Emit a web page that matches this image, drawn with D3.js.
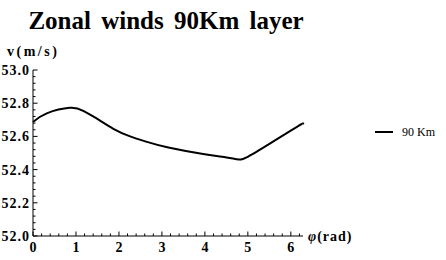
<!DOCTYPE html>
<html>
<head>
<meta charset="UTF-8">
<script src="https://d3js.org/d3.v7.min.js"></script>
</head>
<body style="margin:0">
<svg id="chart" width="446" height="260" font-family="Liberation Serif, Times New Roman, serif"></svg>
<script>
// zonal wind at 90 km vs longitude phi (rad)
const phi = [0, 0.32, 0.86, 1.17, 1.48, 1.87, 2.26, 2.64, 3.15, 3.96, 4.4, 4.74, 4.97, 5.51, 6.17, 6.283];
const wind = [52.687, 52.739, 52.772, 52.754, 52.708, 52.646, 52.600, 52.568, 52.533, 52.494, 52.478, 52.463, 52.473, 52.556, 52.662, 52.674];
const xTicks = [0, 1, 2, 3, 4, 5, 6];
const yTicks = [52.0, 52.2, 52.4, 52.6, 52.8, 53.0];
const seriesName = "90 Km";
const fontFam = "Liberation Serif, Times New Roman, serif";

const svg = d3.select("#chart");
const x = d3.scaleLinear().domain([0, 2 * Math.PI]).range([33, 303]);
const y = d3.scaleLinear().domain([52.0, 53.0]).range([236, 70]);

// minor ticks
const xMinor = d3.range(0, 6.3, 0.2).filter(v => Math.abs(v - Math.round(v)) > 1e-6);
const yMinor = d3.range(52.0, 53.001, 0.04).filter(v => Math.abs(v * 5 - Math.round(v * 5)) > 1e-6);

const gx = svg.append("g").attr("transform", "translate(0,236)");
gx.append("line").attr("x1", x(0)).attr("x2", x(2 * Math.PI)).attr("stroke", "#000");
gx.selectAll(".mn").data(xMinor).join("line")
  .attr("x1", d => x(d)).attr("x2", d => x(d)).attr("y1", 0).attr("y2", -2.5).attr("stroke", "#000");
const xt = gx.selectAll(".tick").data(xTicks).join("g").attr("class", "tick")
  .attr("transform", d => `translate(${x(d)},0)`);
xt.append("line").attr("y2", -4.5).attr("stroke", "#000");
xt.append("text").attr("y", 16).attr("text-anchor", "middle")
  .attr("font-family", fontFam).attr("font-weight", "bold").attr("font-size", 14)
  .text(d => d);

const gy = svg.append("g").attr("transform", "translate(33,0)");
gy.append("line").attr("y1", y(52)).attr("y2", y(53)).attr("stroke", "#000");
gy.selectAll(".mn").data(yMinor).join("line")
  .attr("y1", d => y(d)).attr("y2", d => y(d)).attr("x1", 0).attr("x2", 2.5).attr("stroke", "#000");
const yt = gy.selectAll(".tick").data(yTicks).join("g").attr("class", "tick")
  .attr("transform", d => `translate(0,${y(d)})`);
yt.append("line").attr("x2", 4.5).attr("stroke", "#000");
yt.append("text").attr("x", -3).attr("dy", "0.35em").attr("text-anchor", "end")
  .attr("font-family", fontFam).attr("font-weight", "bold").attr("font-size", 14)
  .attr("letter-spacing", 1)
  .text(d => d.toFixed(1));

// curve
const line = d3.line().x((d, i) => x(phi[i])).y(d => y(d)).curve(d3.curveNatural);
svg.append("path").datum(wind).attr("d", line)
  .attr("fill", "none").attr("stroke", "#000").attr("stroke-width", 2);

// titles
svg.append("text").attr("x", 166).attr("y", 29).attr("text-anchor", "middle")
  .attr("font-family", fontFam).attr("font-size", 25).attr("font-weight", "bold")
  .attr("word-spacing", 4)
  .text("Zonal winds 90Km layer");
svg.append("text").attr("x", 7).attr("y", 56)
  .attr("font-family", fontFam).attr("font-size", 14).attr("font-weight", "bold")
  .attr("letter-spacing", 2.5)
  .text("v(m/s)");
const phiLabel = svg.append("text").attr("x", 308).attr("y", 241)
  .attr("font-family", fontFam).attr("font-size", 14).attr("font-weight", "bold")
  .attr("letter-spacing", 1);
phiLabel.append("tspan").attr("font-style", "italic").text("φ");
phiLabel.append("tspan").text("(rad)");

// legend
svg.append("line").attr("x1", 375).attr("x2", 393).attr("y1", 132).attr("y2", 132)
  .attr("stroke", "#000").attr("stroke-width", 2);
svg.append("text").attr("x", 402).attr("y", 136)
  .attr("font-family", fontFam).attr("font-size", 12)
  .text(seriesName);
</script>
</body>
</html>
